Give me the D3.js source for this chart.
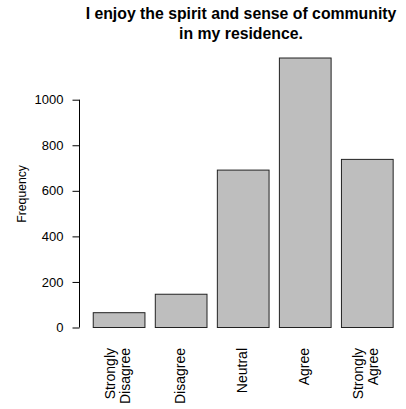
<!DOCTYPE html>
<html><head><meta charset="utf-8">
<script src="https://cdn.jsdelivr.net/npm/d3@7"></script>
<style>body{margin:0;background:#fff}svg{display:block}text{font-family:"Liberation Sans",Arial,sans-serif}</style>
</head><body>
<script>
const categories = [["Strongly","Disagree"],["Disagree"],["Neutral"],["Agree"],["Strongly","Agree"]];
const values = [65, 146, 691, 1183, 738];
const yTicks = [0, 200, 400, 600, 800, 1000];
const titleLines = ["I enjoy the spirit and sense of community", "in my residence."];

const W = 406, H = 409;
const svg = d3.select("body").append("svg").attr("width", W).attr("height", H);
const keys = categories.map(c => c.join(" "));
const x = d3.scaleBand().domain(keys).range([82.4, 403]).paddingInner(0.2/1.2).paddingOuter(0.2/1.2);
const y = d3.scaleLinear().domain([0, 1000]).range([327.5, 99.7]);

svg.selectAll("rect.bar").data(values).enter().append("rect")
  .attr("x", (d,i) => x(keys[i]) + 0.5)
  .attr("y", d => y(d))
  .attr("width", x.bandwidth())
  .attr("height", d => y(0) - y(d))
  .attr("fill", "#bebebe").attr("stroke", "#222").attr("stroke-width", 1);

const yAxis = d3.axisLeft(y).tickValues(yTicks).tickSize(7).tickPadding(9).tickFormat(d3.format("d"));
const ga = svg.append("g").attr("transform", "translate(79.5,0)").call(yAxis);
ga.select(".domain").attr("d", `M0,${y(0)}V${y(1000)}`).attr("stroke", "#000");
ga.selectAll(".tick line").attr("stroke", "#000");
ga.selectAll(".tick text").attr("font-size", 13).attr("fill", "#000").style("font-family", '"Liberation Sans",Arial,sans-serif');

// y label centred on the full plot region (which extends above the 1000 tick)
const plotTop = y(values.reduce((a,b)=>Math.max(a,b)) * 1.04);
svg.append("text").attr("transform", `translate(26,${(y(0) + 13 + plotTop)/2}) rotate(-90)`)
  .attr("text-anchor", "middle").attr("font-size", 12.2).text("Frequency");

categories.forEach((lines, i) => {
  const cx = x(keys[i]) + x.bandwidth()/2;
  const n = lines.length;
  lines.forEach((ln, j) => {
    const off = (j - (n-1)/2) * 15;
    svg.append("text")
      .attr("transform", `translate(${cx + off + 4},348) rotate(-90)`)
      .attr("text-anchor", "end").attr("font-size", 14).text(ln);
  });
});

const tg = svg.append("text").attr("text-anchor", "middle").attr("font-weight", "bold").attr("font-size", 15.8);
titleLines.forEach((t, i) => {
  tg.append("tspan").attr("x", 241).attr("y", 18.5 + i*20.5).text(t);
});
</script>
</body></html>
